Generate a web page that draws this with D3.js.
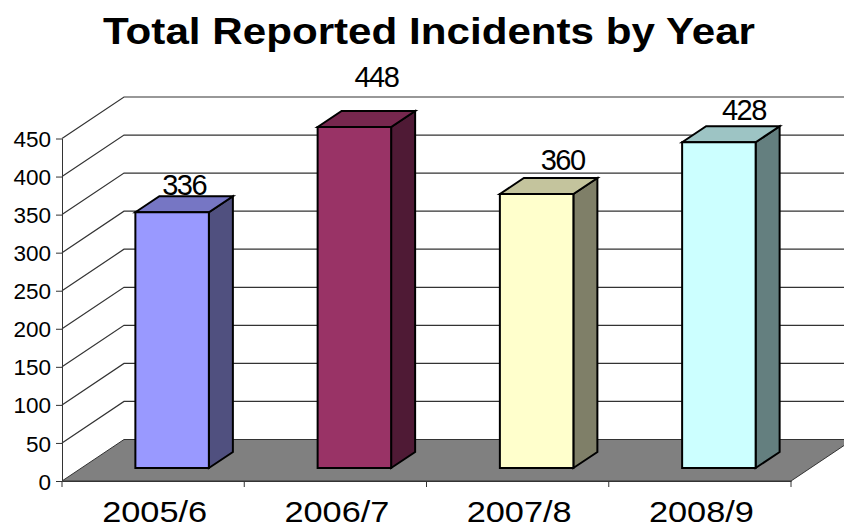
<!DOCTYPE html>
<html><head><meta charset="utf-8">
<script src="https://cdn.jsdelivr.net/npm/d3@7/dist/d3.min.js"></script>
<style>html,body{margin:0;padding:0;background:#fff}svg{display:block}text{font-family:"Liberation Sans",Arial,sans-serif;fill:#000}</style>
</head><body><div id="c"></div>
<script>
const categories = ["2005/6","2006/7","2007/8","2008/9"];
const values = [336,448,360,428];
const yTicks = [0,50,100,150,200,250,300,350,400,450];
const frontColors = ["#9999ff","#993366","#ffffcc","#ccffff"];
const topColors = ["#7676c4","#76274e","#c4c49d","#9dc4c4"];
const sideColors = ["#50507f","#4f1a35","#7f7f68","#647f7f"];
const titleText = "Total Reported Incidents by Year";

const svg = d3.select("#c").append("svg").attr("width",844).attr("height",525);
const y = d3.scaleLinear().domain([0,450]).range([481,138.5]);
const x = d3.scaleBand().domain(categories).range([62,791]);
const depth = {dx:62, dy:-41.5};
const barOff = {dx:19, dy:-13};
const barDepth = {dx:24, dy:-16};
const barW = 73.5;

svg.append("text").attr("x",429).attr("y",44).attr("text-anchor","middle")
  .attr("font-size",36).attr("font-weight","bold")
  .attr("textLength",652).attr("lengthAdjust","spacingAndGlyphs").text(titleText);

// walls gridlines
const grid = svg.append("g").attr("fill","none").attr("stroke","#333").attr("stroke-width",1.2);
yTicks.filter(d=>d>0).forEach(d=>{
  grid.append("path").attr("d",d3.line()([[x.range()[0],y(d)],[x.range()[0]+depth.dx,y(d)+depth.dy],[x.range()[1]+depth.dx,y(d)+depth.dy]]));
});
// floor
svg.append("path").attr("fill","#808080").attr("stroke","#333").attr("stroke-width",1)
  .attr("d",d3.line()([[62,y(0)],[62+depth.dx,y(0)+depth.dy],[791+depth.dx,y(0)+depth.dy],[791,y(0)]])+"Z");

// axes
const yAxis = d3.axisLeft(y).tickValues(yTicks).tickSize(6).tickSizeOuter(0).tickPadding(5);
const gy = svg.append("g").attr("transform","translate(62,0)").call(yAxis);
gy.selectAll("text").attr("font-size",22.5).attr("font-family",'"Liberation Sans",Arial,sans-serif').attr("dy","0.36em");
gy.selectAll("line,path").attr("stroke","#333");
const xAxis = d3.axisBottom(x).tickValues([]).tickSizeOuter(0);
const gx = svg.append("g").attr("transform","translate(0,481)").call(xAxis);
gx.selectAll("path").attr("stroke","#333");
const xEdges = categories.map(c=>x(c)).concat([x.range()[1]]);
svg.append("g").selectAll("line").data(xEdges).join("line")
  .attr("x1",d=>d).attr("x2",d=>d).attr("y1",481).attr("y2",487).attr("stroke","#333");
svg.append("g").selectAll("text").data(categories).join("text")
  .attr("x",d=>x(d)+x.bandwidth()/2+1.5).attr("y",522).attr("text-anchor","middle")
  .attr("font-size",30).attr("textLength",105).attr("lengthAdjust","spacingAndGlyphs").text(d=>d);

// bars
const bars = svg.append("g").attr("stroke","#000").attr("stroke-width",2).attr("stroke-linejoin","miter");
const line = d3.line();
categories.forEach((c,i)=>{
  const v = values[i];
  const l = x(c)+x.bandwidth()/2 - barW/2 + barOff.dx;
  const r = l+barW;
  const b = y(0)+barOff.dy;
  const t = y(v)+barOff.dy;
  bars.append("path").attr("fill",sideColors[i]).attr("d",line([[r,b],[r,t],[r+barDepth.dx,t+barDepth.dy],[r+barDepth.dx,b+barDepth.dy]])+"Z");
  bars.append("path").attr("fill",topColors[i]).attr("d",line([[l,t],[l+barDepth.dx,t+barDepth.dy],[r+barDepth.dx,t+barDepth.dy],[r,t]])+"Z");
  bars.append("path").attr("fill",frontColors[i]).attr("d",line([[l,t],[r,t],[r,b],[l,b]])+"Z");
});
// value labels
const labelShift = [12,22,26,25];
const labelRise = [17,40,24,22];
svg.append("g").selectAll("text").data(values).join("text")
  .attr("x",(d,i)=>x(categories[i])+x.bandwidth()/2+barOff.dx+labelShift[i])
  .attr("y",(d,i)=>y(d)+barOff.dy-labelRise[i])
  .attr("text-anchor","middle").attr("font-size",29).attr("letter-spacing",-1.5).text(d=>d);
</script></body></html>
